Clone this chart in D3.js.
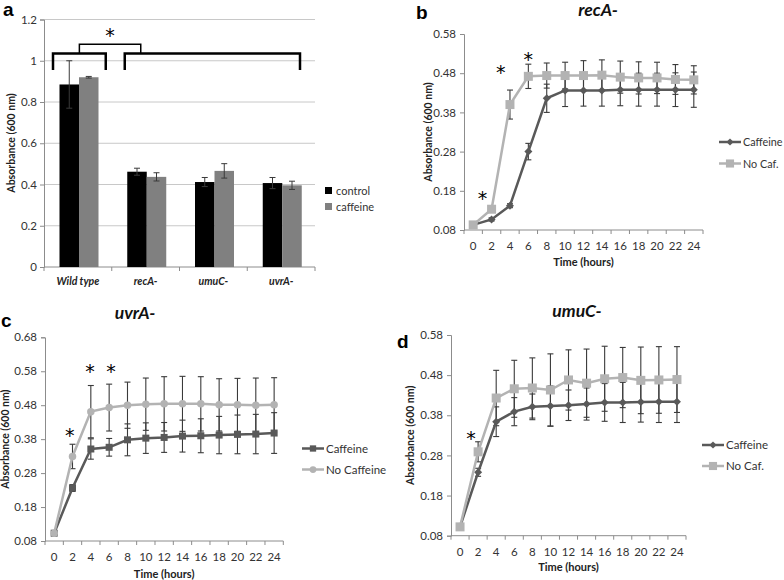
<!DOCTYPE html>
<html><head><meta charset="utf-8">
<script src="https://cdn.jsdelivr.net/npm/d3@7"></script>
<style>
body{margin:0;background:#fff;}
svg{font-family:Lato,"Open Sans",sans-serif;}
</style></head>
<body><svg id="c" width="784" height="580"></svg>
<script>
// ---------- Panel a data ----------
const strains = ["Wild type","recA-","umuC-","uvrA-"];
const barSeries = ["control","caffeine"];
const controlVals = [0.885,0.462,0.412,0.407];
const controlErr  = [0.115,0.017,0.022,0.027];
const caffeineVals = [0.92,0.437,0.466,0.396];
const caffeineErr  = [0.004,0.02,0.035,0.02];
const barTicks = [0,0.2,0.4,0.6,0.8,1,1.2];

// ---------- Time course ----------
const hours = [0,2,4,6,8,10,12,14,16,18,20,22,24];
// b recA-
const bCaf = [0.093,0.107,0.142,0.280,0.416,0.436,0.436,0.436,0.438,0.438,0.438,0.438,0.438];
const bCafErr = [0.003,0.004,0.005,0.021,0.036,0.041,0.040,0.040,0.041,0.042,0.042,0.043,0.045];
const bNo = [0.093,0.133,0.400,0.472,0.474,0.474,0.474,0.475,0.470,0.468,0.468,0.464,0.463];
const bNoErr = [0.003,0.005,0.037,0.031,0.032,0.034,0.038,0.039,0.041,0.041,0.040,0.038,0.036];
// c uvrA-
const cCaf = [0.103,0.236,0.351,0.356,0.378,0.383,0.385,0.389,0.390,0.392,0.394,0.395,0.398];
const cCafErr = [0.004,0.010,0.030,0.026,0.047,0.045,0.044,0.047,0.050,0.055,0.057,0.058,0.060];
const cNo = [0.103,0.329,0.461,0.473,0.480,0.483,0.484,0.484,0.484,0.481,0.481,0.480,0.481];
const cNoErr = [0.004,0.036,0.077,0.069,0.068,0.077,0.080,0.081,0.080,0.077,0.078,0.080,0.080];
// d umuC-
const dCaf = [0.102,0.238,0.364,0.389,0.401,0.403,0.405,0.408,0.412,0.412,0.413,0.414,0.414];
const dCafErr = [0.004,0.010,0.037,0.035,0.032,0.050,0.038,0.040,0.047,0.050,0.050,0.052,0.052];
const dNo = [0.102,0.289,0.423,0.446,0.448,0.443,0.468,0.460,0.471,0.474,0.467,0.468,0.469];
const dNoErr = [0.004,0.025,0.069,0.071,0.075,0.090,0.075,0.085,0.081,0.075,0.083,0.083,0.082];

const svg = d3.select("#c");
const txt = "#333", axisCol = "#8c8c8c", errCol = "#3a3a3a";
const darkLine = "#595959", lightLine = "#b3b3b3";
const starFont = "'DejaVu Sans',sans-serif";
const labFont = "'Liberation Sans',Arial,sans-serif";

function star(g, cx, cy){
  g.append("text").attr("x",cx).attr("y",cy+10).attr("text-anchor","middle")
    .style("font-family",starFont).style("font-size","19px").attr("fill","#000").text("*");
}

// ================= Panel a =================
(function(){
  const y = d3.scaleLinear().domain([0,1.2]).range([267,19.5]);
  const x = d3.scaleBand().domain(strains).range([44,315]);
  const xi = d3.scaleBand().domain(barSeries).range([15.5,54.5]);
  const g = svg.append("g");
  g.selectAll("line.grid").data(barTicks.filter(d=>d>0)).join("line")
    .attr("x1",44).attr("x2",315).attr("y1",d=>y(d)).attr("y2",d=>y(d))
    .attr("stroke","#c8c8c8").attr("stroke-width",1);
  const ya = g.append("g").attr("transform","translate(44,0)")
    .call(d3.axisLeft(y).tickValues(barTicks).tickSize(4).tickPadding(3).tickFormat(d3.format("")));
  ya.select(".domain").attr("stroke",axisCol);
  ya.selectAll(".tick line").attr("stroke",axisCol);
  ya.selectAll("text").attr("fill",txt).style("font-size","11.5px").style("font-family","Lato,sans-serif");
  g.append("line").attr("x1",44).attr("x2",315).attr("y1",y(0)).attr("y2",y(0)).attr("stroke",axisCol);
  g.selectAll("line.xt").data(strains.map((s)=>x(s)).concat([315])).join("line")
    .attr("x1",d=>d).attr("x2",d=>d).attr("y1",y(0)).attr("y2",y(0)+4).attr("stroke",axisCol);
  g.selectAll("text.xl").data(strains).join("text")
    .attr("x",d=>x(d)+x.bandwidth()/2).attr("y",285).attr("text-anchor","middle")
    .attr("fill","#222").style("font-size","10.5px").style("font-weight","bold").style("font-style","italic")
    .text(d=>d);
  const sets = [
    {key:"control", vals:controlVals, err:controlErr, color:"#000"},
    {key:"caffeine", vals:caffeineVals, err:caffeineErr, color:"#808080"}];
  sets.forEach(s=>{
    strains.forEach((st,i)=>{
      const bx = x(st)+xi(s.key);
      g.append("rect").attr("x",bx).attr("width",xi.bandwidth()).attr("y",y(s.vals[i]))
        .attr("height",y(0)-y(s.vals[i])).attr("fill",s.color);
      const cx = bx+xi.bandwidth()/2;
      const ylo = y(s.vals[i]-s.err[i]), yhi = y(s.vals[i]+s.err[i]);
      g.append("line").attr("x1",cx).attr("x2",cx).attr("y1",ylo).attr("y2",yhi).attr("stroke",errCol).attr("stroke-width",1);
      [ylo,yhi].forEach(yy=>g.append("line").attr("x1",cx-3).attr("x2",cx+3).attr("y1",yy).attr("y2",yy).attr("stroke",errCol).attr("stroke-width",1));
    });
  });
  g.append("text").attr("transform","translate(15,143) rotate(-90)").attr("text-anchor","middle")
    .attr("fill","#222").style("font-size","10.5px").style("font-weight","bold").text("Absorbance (600 nm)");
  sets.forEach((s,i)=>{
    g.append("rect").attr("x",325).attr("y",187+i*16).attr("width",7).attr("height",7).attr("fill",s.color);
    g.append("text").attr("x",336).attr("y",194.5+i*16).attr("fill",txt).style("font-size","11px").text(s.key);
  });
  const bw = x.bandwidth();
  const lb = [x("Wild type")+9, x("Wild type")+bw-6];
  const rb = [x("recA-")+13, x("uvrA-")+bw-15];
  const yb = y(1.035), yl = y(0.955), yt = y(1.08);
  g.append("path").attr("d",`M${lb[0]},${yl}V${yb}H${lb[1]}V${yl}`).attr("fill","none").attr("stroke","#000").attr("stroke-width",2.5);
  g.append("path").attr("d",`M${rb[0]},${yl}V${yb}H${rb[1]}V${yl}`).attr("fill","none").attr("stroke","#000").attr("stroke-width",2.5);
  const tm = (lb[0]+lb[1])/2;
  g.append("path").attr("d",`M${tm},${yb}V${yt}H${rb[0]+16}V${yb}`).attr("fill","none").attr("stroke","#000").attr("stroke-width",1.5);
  star(g,(tm+rb[0]+16)/2,y(1.14));
  svg.append("text").attr("x",3).attr("y",16).style("font-family",labFont)
    .style("font-size","19px").style("font-weight","bold").text("a");
})();

// ================= Line panels =================
function linePanel(o){
  const g = svg.append("g");
  const y = d3.scaleLinear().domain(o.yDomain).range([o.yBot,o.yTop]);
  const x = d3.scaleBand().domain(hours).range([o.x0,o.x1]);
  const px = t => x(t)+x.bandwidth()/2;
  const ya = g.append("g").attr("transform",`translate(${o.x0},0)`)
    .call(d3.axisLeft(y).tickValues(o.yTicks).tickSize(4).tickPadding(4).tickFormat(d3.format(".2f")));
  ya.select(".domain").attr("stroke",axisCol);
  ya.selectAll(".tick line").attr("stroke",axisCol);
  ya.selectAll("text").attr("fill",txt).style("font-size","11.5px").style("font-family","Lato,sans-serif");
  g.append("line").attr("x1",o.x0).attr("x2",o.x1).attr("y1",o.yBot).attr("y2",o.yBot).attr("stroke",axisCol);
  g.selectAll("line.xt").data(hours.map(h=>x(h)).concat([o.x1])).join("line")
    .attr("x1",d=>d).attr("x2",d=>d).attr("y1",o.yBot).attr("y2",o.yBot+4).attr("stroke",axisCol);
  g.selectAll("text.xl").data(hours).join("text").attr("x",d=>px(d)).attr("y",o.yBot+20)
    .attr("text-anchor","middle").attr("fill",txt).style("font-size","11.5px").text(d=>d);
  g.append("text").attr("x",(o.x0+o.x1)/2).attr("y",o.xTitleY).attr("text-anchor","middle")
    .attr("fill","#222").style("font-size","11px").style("font-weight","bold").text("Time (hours)");
  g.append("text").attr("transform",`translate(${o.yTitleX},${(o.yTop+o.yBot)/2}) rotate(-90)`).attr("text-anchor","middle")
    .attr("fill","#222").style("font-size","10.5px").style("font-weight","bold").text("Absorbance (600 nm)");
  g.append("text").attr("x",o.titleX).attr("y",o.titleY).attr("text-anchor","middle").attr("fill","#111")
    .style("font-size","17.5px").style("font-weight","bold").style("font-style","italic").text(o.title);
  g.append("text").attr("x",o.labX).attr("y",o.labY).style("font-family",labFont)
    .style("font-size","19px").style("font-weight","bold").text(o.lab);
  const line = d3.line().x((d,i)=>px(hours[i])).y(d=>y(d));
  function marker(sel, shape, size, color){
    if(shape==="square") return sel.append("rect").attr("x",-size/2).attr("y",-size/2).attr("width",size).attr("height",size).attr("fill",color);
    if(shape==="diamond") return sel.append("path").attr("d",`M0,${-size/2}L${size/2},0L0,${size/2}L${-size/2},0Z`).attr("fill",color);
    return sel.append("circle").attr("r",size/2).attr("fill",color);
  }
  o.series.forEach(s=>{
    s.vals.forEach((v,i)=>{
      const cx = px(hours[i]); const lo=y(v-s.err[i]), hi=y(v+s.err[i]);
      g.append("line").attr("x1",cx).attr("x2",cx).attr("y1",lo).attr("y2",hi).attr("stroke",errCol).attr("stroke-width",1.1);
      [lo,hi].forEach(yy=>g.append("line").attr("x1",cx-3).attr("x2",cx+3).attr("y1",yy).attr("y2",yy).attr("stroke",errCol).attr("stroke-width",1.1));
    });
  });
  o.series.forEach(s=>{
    g.append("path").datum(s.vals).attr("d",line).attr("fill","none").attr("stroke",s.color).attr("stroke-width",2.5);
    s.vals.forEach((v,i)=>{
      const m = g.append("g").attr("transform",`translate(${px(hours[i])},${y(v)})`);
      marker(m,s.shape,s.size,s.color);
    });
  });
  o.stars.forEach(st=>star(g, x(st[0])+x.bandwidth()*st[2], y(st[1])));
  o.series.forEach((s,i)=>{
    const ly = o.legY + i*o.legGap;
    g.append("line").attr("x1",o.legX).attr("x2",o.legX+22).attr("y1",ly).attr("y2",ly).attr("stroke",s.color).attr("stroke-width",2.5);
    const m = g.append("g").attr("transform",`translate(${o.legX+11},${ly})`);
    marker(m,s.shape,s.size*0.9,s.color);
    g.append("text").attr("x",o.legX+24).attr("y",ly+4).attr("fill",txt).style("font-size",o.legFs||"11.5px").text(s.name);
  });
}

linePanel({x0:464,x1:703,yTop:34,yBot:230,yDomain:[0.08,0.58],yTicks:[0.08,0.18,0.28,0.38,0.48,0.58],
  xTitleY:266,yTitleX:432,title:"recA-",titleX:598,titleY:16,lab:"b",labX:416,labY:19,
  legX:719,legY:142,legGap:21.5,legFs:"10.8px",
  series:[{name:"Caffeine",vals:bCaf,err:bCafErr,color:darkLine,shape:"diamond",size:8},
          {name:"No Caf.",vals:bNo,err:bNoErr,color:lightLine,shape:"square",size:9}],
  stars:[[0,0.17,1.0],[2,0.49,1.0],[6,0.525,0.5]]});

linePanel({x0:45,x1:283.3,yTop:337.3,yBot:541,yDomain:[0.08,0.68],yTicks:[0.08,0.18,0.28,0.38,0.48,0.58,0.68],
  xTitleY:578,yTitleX:9,title:"uvrA-",titleX:135,titleY:319,lab:"c",labX:1,labY:327,
  legX:302,legY:448.5,legGap:21,
  series:[{name:"Caffeine",vals:cCaf,err:cCafErr,color:darkLine,shape:"square",size:7},
          {name:"No Caffeine",vals:cNo,err:cNoErr,color:lightLine,shape:"circle",size:7.5}],
  stars:[[2,0.40,0.35],[4,0.59,0.45],[6,0.59,0.6]]});

linePanel({x0:451,x1:686,yTop:335,yBot:535.7,yDomain:[0.08,0.58],yTicks:[0.08,0.18,0.28,0.38,0.48,0.58],
  xTitleY:571,yTitleX:414,title:"umuC-",titleX:577,titleY:317,lab:"d",labX:397,labY:348,
  legX:702,legY:445,legGap:21,
  series:[{name:"Caffeine",vals:dCaf,err:dCafErr,color:darkLine,shape:"diamond",size:8},
          {name:"No Caf.",vals:dNo,err:dNoErr,color:lightLine,shape:"square",size:9}],
  stars:[[0,0.33,1.1]]});
</script></body></html>
